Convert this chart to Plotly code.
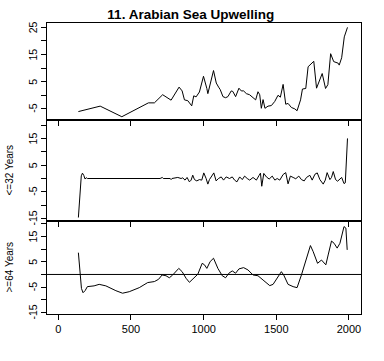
import plotly.graph_objects as go

# ---------------- data ----------------
top_years = [138, 288, 437, 620, 661, 718, 776, 831, 852, 868, 891, 918, 932, 948, 971,
             999, 1022, 1029, 1068, 1087, 1103, 1114, 1133, 1151, 1167, 1190, 1201, 1220,
             1243, 1259, 1275, 1294, 1316, 1340, 1358, 1374, 1386, 1397, 1409, 1422, 1443,
             1466, 1489, 1512, 1528, 1547, 1565, 1581, 1604, 1627, 1643, 1667, 1680, 1703,
             1719, 1758, 1777, 1816, 1839, 1855, 1874, 1895, 1926, 1933, 1950, 1968, 1990]
top_vals = [-6.0, -4.0, -7.9, -2.8, -2.8, 0.2, -1.8, 3.0, 1.6, -1.7, -2.0, -3.9, -0.2, -0.6, 1.2,
            7.0, 2.5, 0.6, 9.1, 4.5, 3.0, 2.1, -0.5, -0.9, -0.5, 1.6, 1.4, -0.5,
            2.6, 1.6, 1.6, 0.6, 0.2, -0.7, -1.7, 1.3, 0.2, -4.8, -1.6, -4.8, -4.0,
            -3.8, -2.3, 0.0, -0.7, 4.0, -3.3, -3.0, -4.5, -5.0, -5.7, -1.7, 2.3, 2.5,
            10.5, 12.5, 2.6, 8.0, 2.5, 3.9, 15.3, 12.4, 11.8, 11.1, 13.8, 21.5, 25.0]

mid_years = [138, 150, 158, 166, 175, 184, 192, 200, 700, 716, 722, 770, 776, 782, 822, 845,
             856, 872, 886, 902, 914, 925, 937, 953, 971, 987, 1001, 1017, 1029, 1040, 1056,
             1070, 1086, 1102, 1121, 1137, 1155, 1178, 1197, 1213, 1229, 1248, 1266, 1282,
             1300, 1317, 1340, 1363, 1382, 1391, 1400, 1414, 1432, 1451, 1472, 1490, 1506,
             1524, 1547, 1565, 1581, 1597, 1616, 1634, 1655, 1673, 1692, 1708, 1731, 1747,
             1766, 1782, 1800, 1823, 1837, 1850, 1869, 1880, 1892, 1908, 1922, 1934, 1950,
             1966, 1975, 1990]
mid_vals = [-14.6, -3.0, 1.0, 2.0, 1.2, -0.2, 0.3, 0.0, 0.0, 0.4, 0.0, 0.0, -0.4, 0.0, 0.4, 0.0,
            0.25, -0.6, 0.4, -1.25, -0.6, 1.25, -0.4, -0.9, -0.4, -0.6, 2.1, 0.0, -2.1, -0.4, 1.25,
            2.1, -0.9, 0.0, 0.6, -0.6, 0.6, 0.0, 0.6, -0.6, -1.25, 0.6, -0.4, 0.9,
            0.0, -0.6, 0.4, -0.6, 1.2, 2.0, -2.9, 1.9, 0.6, -0.2, 0.9, -0.6, 0.0,
            -0.6, 1.5, 2.2, -2.0, 0.9, 0.4, -0.1, 0.9, -0.4, -0.9, 0.4, 1.2, -0.6,
            1.6, 2.1, -0.4, -2.1, -0.6, 2.2, -0.4, 0.4, 2.6, -0.4, -1.0, -0.4, 0.4,
            -1.9, -1.6, 15.0]

low_years = [138, 143, 150, 159, 170, 184, 200, 246, 281, 327, 396, 442, 488, 557, 615, 661,
             690, 714, 741, 764, 787, 829, 852, 879, 902, 930, 960, 990, 1006, 1022, 1045,
             1068, 1098, 1128, 1151, 1174, 1197, 1220, 1243, 1275, 1305, 1340, 1374, 1409,
             1455, 1478, 1512, 1535, 1551, 1581, 1616, 1643, 1673, 1708, 1735, 1754, 1784,
             1811, 1841, 1857, 1880, 1898, 1919, 1938, 1966, 1979, 1988]
low_vals = [8.6, 5.1, -1.5, -5.5, -7.2, -6.4, -4.8, -4.5, -3.9, -4.5, -6.4, -7.4, -6.8, -5.2, -3.2, -2.8,
            -1.9, -0.2, -0.5, -1.3, -0.2, 2.4, 1.1, -1.5, -3.1, -1.5, 0.1, 4.4, 3.8, 2.4, 5.1,
            6.4, 2.4, -0.5, -1.3, 0.5, 1.4, 0.5, 2.2, 2.7, 1.8, -0.2, -0.5, -2.2,
            -4.4, -3.9, -0.9, 1.1, -0.2, -3.9, -4.8, -5.2, -0.2, 6.4, 11.4, 9.0, 4.4,
            5.7, 3.8, 7.7, 13.2, 12.3, 10.4, 12.3, 18.9, 18.3, 9.7]

baseline = 0
x_ticks = [0, 500, 1000, 1500, 2000]
x_tick_labels = ["0", "500", "1000", "1500", "2000"]
top_labels = [-5, 5, 15, 25]
mid_labels = [-15, -5, 5, 15]
low_labels = [-15, -5, 5, 15]
minor_ticks = [-15, -10, -5, 0, 5, 10, 15, 20, 25]

title = "11. Arabian Sea Upwelling"
mid_title = "<=32 Years"
low_title = ">=64 Years"

# ---------------- figure ----------------
FONT = "Liberation Sans, Arial, sans-serif"
line = dict(color="black", width=1)
W, H = 384, 361
L, R, T, B = 47, 23, 23, 47
PW = W - L - R


def px_to_paper_x(px):
    return (px - L) / PW


fig = go.Figure()
fig.add_trace(go.Scatter(x=top_years, y=top_vals, mode="lines", line=line, xaxis="x", yaxis="y"))
fig.add_trace(go.Scatter(x=mid_years, y=mid_vals, mode="lines", line=line, xaxis="x2", yaxis="y2"))
fig.add_trace(go.Scatter(x=low_years, y=low_vals, mode="lines", line=line, xaxis="x3", yaxis="y3"))

fig.add_shape(type="line", xref="x3 domain", x0=0, x1=1, yref="y3", y0=baseline, y1=baseline,
              line=dict(color="black", width=1))

xbase = dict(range=[-78, 2083], showline=True, mirror=True, linecolor="black", linewidth=1,
             ticks="outside", ticklen=5, tickcolor="black", tickwidth=1, tickvals=x_ticks,
             ticktext=x_tick_labels, showgrid=False, zeroline=False,
             tickfont=dict(family=FONT, size=11, color="black"))


def ybase(rng, domain):
    return dict(range=rng, domain=domain, showline=True, mirror=True, linecolor="black",
                linewidth=1, ticks="outside", ticklen=5, tickcolor="black", tickwidth=1,
                tickvals=minor_ticks, showticklabels=False, showgrid=False, zeroline=False)


annotations = []
for yref, labels in (("y", top_labels), ("y2", mid_labels), ("y3", low_labels)):
    for v in labels:
        annotations.append(dict(text=str(v), xref="paper", yref=yref, x=px_to_paper_x(33), y=v,
                                showarrow=False, textangle=-90, xanchor="center", yanchor="middle",
                                font=dict(family=FONT, size=10.5, color="black")))

annotations.append(dict(text=mid_title, xref="paper", yref="paper", x=px_to_paper_x(9),
                        y=(0.3196 + 0.6667) / 2, showarrow=False, textangle=-90,
                        xanchor="center", yanchor="middle",
                        font=dict(family=FONT, size=10, color="black")))
annotations.append(dict(text=low_title, xref="paper", yref="paper", x=px_to_paper_x(9),
                        y=0.3196 / 2, showarrow=False, textangle=-90,
                        xanchor="center", yanchor="middle",
                        font=dict(family=FONT, size=10, color="black")))

fig.update_layout(
    width=W, height=H,
    margin=dict(l=L, r=R, t=T, b=B),
    paper_bgcolor="white", plot_bgcolor="white",
    showlegend=False,
    hovermode=False,
    xaxis=dict(xbase, anchor="y", showticklabels=False),
    xaxis2=dict(xbase, anchor="y2", showticklabels=False),
    xaxis3=dict(xbase, anchor="y3", showticklabels=True),
    yaxis=ybase([-9.1, 26.6], [0.6667, 1.0]),
    yaxis2=ybase([-15.9, 21.9], [0.3196, 0.6667]),
    yaxis3=ybase([-15.6, 21.1], [0.0, 0.3196]),
    title=dict(text="<b>" + title + "</b>", x=px_to_paper_x(203), xanchor="center",
               y=1 - 14 / H, yanchor="middle", yref="container",
               font=dict(family=FONT, size=13.5, color="black")),
    annotations=annotations,
)

fig.write_html("out.html",
               config={"displayModeBar": False, "staticPlot": True},
               post_script="document.body.style.margin='0px';document.body.style.padding='0px';")
